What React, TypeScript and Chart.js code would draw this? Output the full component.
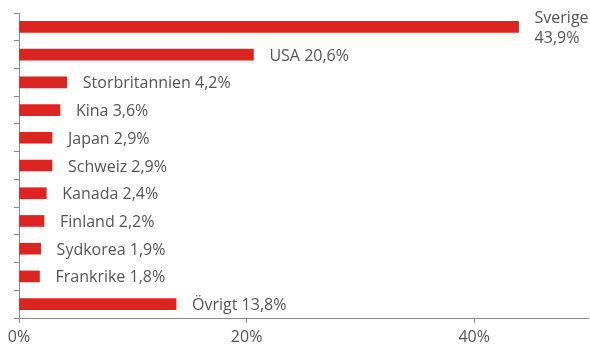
import React, { useEffect, useRef } from "react";
import { Chart, registerables } from "chart.js";

Chart.register(...registerables);

const categories = ["Sverige", "USA", "Storbritannien", "Kina", "Japan", "Schweiz", "Kanada", "Finland", "Sydkorea", "Frankrike", "Övrigt"];
const values = [43.9, 20.6, 4.2, 3.6, 2.9, 2.9, 2.4, 2.2, 1.9, 1.8, 13.8];
const xTicks = [0, 20, 40];

const FONT = "'Open Sans', 'DejaVu Sans', sans-serif";
const TEXT = "#555555";
const AXIS = "#8a8a8a";
const RED = "#dc2520";

const fmt = (v: number) => v.toFixed(1).replace(".", ",") + "%";

const labelPlugin = {
  id: "barLabels",
  afterDatasetsDraw(chart: any) {
    const ctx = chart.ctx;
    const meta = chart.getDatasetMeta(0);
    ctx.save();
    ctx.font = `16px ${FONT}`;
    ctx.fillStyle = TEXT;
    ctx.textAlign = "left";
    ctx.textBaseline = "middle";
    meta.data.forEach((bar: any, i: number) => {
      const text = `${categories[i]} ${fmt(values[i])}`;
      const x = bar.x + 16;
      const w = ctx.measureText(text).width;
      if (x + w > chart.width) {
        ctx.fillText(categories[i], x, bar.y - 8);
        ctx.fillText(fmt(values[i]), x, bar.y + 12);
      } else {
        ctx.fillText(text, x, bar.y + 1.5);
      }
    });
    ctx.restore();
  },
};

export default function App() {
  const ref = useRef<HTMLCanvasElement>(null);
  useEffect(() => {
    const chart = new Chart(ref.current!, {
      type: "bar",
      data: {
        labels: categories,
        datasets: [
          {
            data: values,
            backgroundColor: RED,
            borderWidth: 0,
            barThickness: 11,
          },
        ],
      },
      options: {
        indexAxis: "y",
        animation: false,
        responsive: false,
        maintainAspectRatio: false,
        layout: { padding: { top: 13, right: 2, left: 0, bottom: 0 } },
        plugins: { legend: { display: false }, tooltip: { enabled: false } },
        scales: {
          y: {
            offset: true,
            grid: { offset: true, drawOnChartArea: false, drawTicks: true, tickLength: 5, color: AXIS },
            border: { color: AXIS, width: 1 },
            ticks: { display: false },
            afterFit: (s: any) => { s.width = 19; },
          },
          x: {
            min: 0,
            max: 50,
            grid: { drawOnChartArea: false, drawTicks: true, tickLength: 5, color: AXIS },
            border: { color: AXIS, width: 1 },
            afterBuildTicks: (s: any) => { s.ticks = xTicks.map((v) => ({ value: v })); },
            ticks: {
              color: TEXT,
              font: { family: FONT, size: 16 },
              padding: 5,
              callback: (v: any) => `${v}%`,
            },
            afterFit: (s: any) => { s.height = 26; },
          },
        },
      },
      plugins: [labelPlugin],
    });
    return () => chart.destroy();
  }, []);
  return (
    <div style={{ position: "fixed", left: 0, top: 0, width: 590, height: 344, background: "#fff" }}>
      <canvas ref={ref} width={590} height={344} style={{ width: 590, height: 344 }} />
    </div>
  );
}
